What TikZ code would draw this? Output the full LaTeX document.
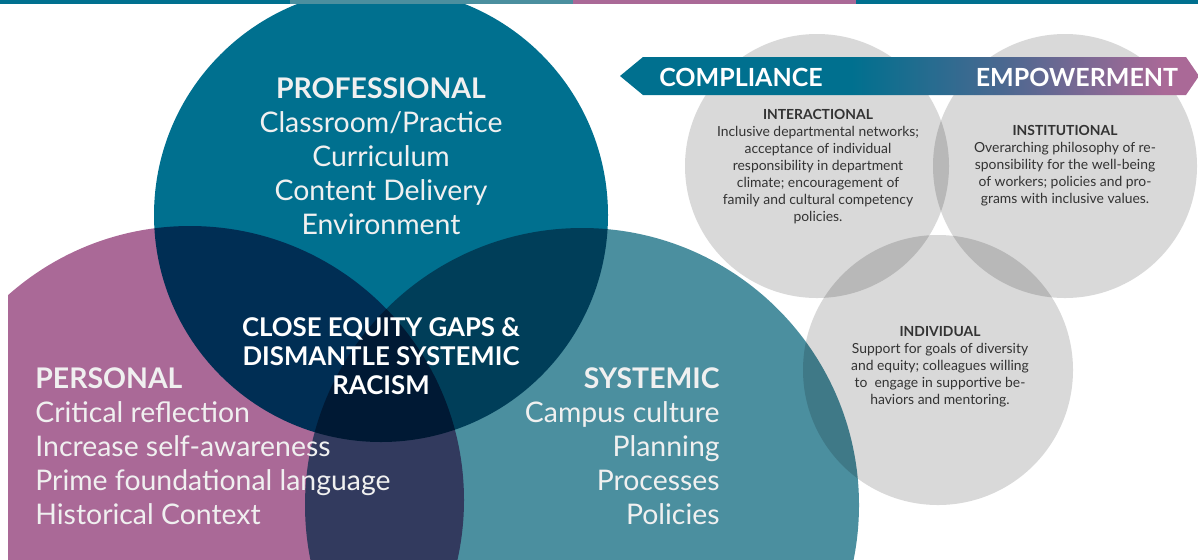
\documentclass[tikz,border=0pt]{standalone}
\usepackage{fontspec}
\setmainfont{Lato}
\usepackage{xcolor}
\usepackage{tikz}
\usetikzlibrary{calc}
\usetikzlibrary{shapes}
\usetikzlibrary{positioning}

\definecolor{proteal}{HTML}{00708F}
\definecolor{perpink}{HTML}{AA6997}
\definecolor{systeal}{HTML}{4B8F9F}
\definecolor{lensgrey}{HTML}{D9D9D9}
\definecolor{banmid}{HTML}{4A6890}
\definecolor{notetext}{HTML}{333333}
\definecolor{softwhite}{HTML}{F0F0F0}

\pgfdeclarehorizontalshading{bannershade}{100bp}{color(0bp)=(proteal); color(45bp)=(proteal); color(58bp)=(banmid); color(72bp)=(perpink); color(100bp)=(perpink)}

\tikzset{>=latex}
\tikzstyle{venn} = [blend mode=multiply]
\tikzset{
  group/.style = {text=softwhite, font=\fontsize{14.2}{17}\selectfont, inner sep=0pt},
  goal/.style = {text=white, font=\bfseries\fontsize{12.9}{14.5}\selectfont, align=center, inner sep=0pt},
  tag/.style = {text=white, font=\bfseries\fontsize{12.5}{15}\selectfont, inner sep=0pt},
  note/.style = {text=notetext, font=\fontsize{6.95}{8.5}\selectfont, align=center, inner sep=0pt}
}

\begin{document}
\begin{tikzpicture}[x=0.5pt, y=-0.5pt]
\useasboundingbox (0, 0) rectangle (1198, 559);
\clip (0, 0) rectangle (1198, 559);

\begin{scope}
\clip (8, 0) rectangle (1198, 559);
\fill [venn, proteal] (381, 215) circle [radius=227];
\fill [venn, perpink] (190, 500) circle [radius=274];
\fill [venn, systeal] (582, 505) circle [radius=277];
\fill [venn, lensgrey] (817, 166) circle [radius=132];
\fill [venn, lensgrey] (1065, 166) circle [radius=132];
\fill [venn, lensgrey] (938, 370) circle [radius=135];
\end{scope}

\fill [proteal] (0, 0) rectangle (290, 4);
\fill [systeal] (290, 0) rectangle (573, 4);
\fill [perpink] (573, 0) rectangle (856, 4);
\fill [proteal] (856, 0) rectangle (1198, 4);

\shade [shading=bannershade] (620, 76) -- (643, 57) -- (1186, 57) -- (1199, 76) -- (1186, 95) -- (643, 95) -- cycle;
\node [tag] (compliance) at (741, 77) {COMPLIANCE};
\node [tag] (empowerment) at (1077, 77) {EMPOWERMENT};

\node [group, align=center] (professional) at (381, 156) {\textbf{PROFESSIONAL}\\Classroom/Practice\\Curriculum\\Content Delivery\\Environment};
\node [group, align=left, anchor=west] (personal) at (35, 446) {\textbf{PERSONAL}\\Critical reflection\\Increase self-awareness\\Prime foundational language\\Historical Context};
\node [group, align=right, anchor=east] (systemic) at (720, 446) {\textbf{SYSTEMIC}\\Campus culture\\Planning\\Processes\\Policies};
\node [goal] (goal) at (381, 356) {CLOSE EQUITY GAPS \&\\DISMANTLE SYSTEMIC\\RACISM};

\node [note] (interactional) at (818, 167) {\textbf{INTERACTIONAL}\\Inclusive departmental networks;\\acceptance of individual\\responsibility in department\\climate; encouragement of\\family and cultural competency\\policies.};
\node [note] (institutional) at (1065, 166) {\textbf{INSTITUTIONAL}\\Overarching philosophy of re-\\sponsibility for the well-being\\of workers; policies and pro-\\grams with inclusive values.};
\node [note] (individual) at (940, 367) {\textbf{INDIVIDUAL}\\Support for goals of diversity\\and equity; colleagues willing\\to \ engage in supportive be-\\haviors and mentoring.};
\end{tikzpicture}
\end{document}
